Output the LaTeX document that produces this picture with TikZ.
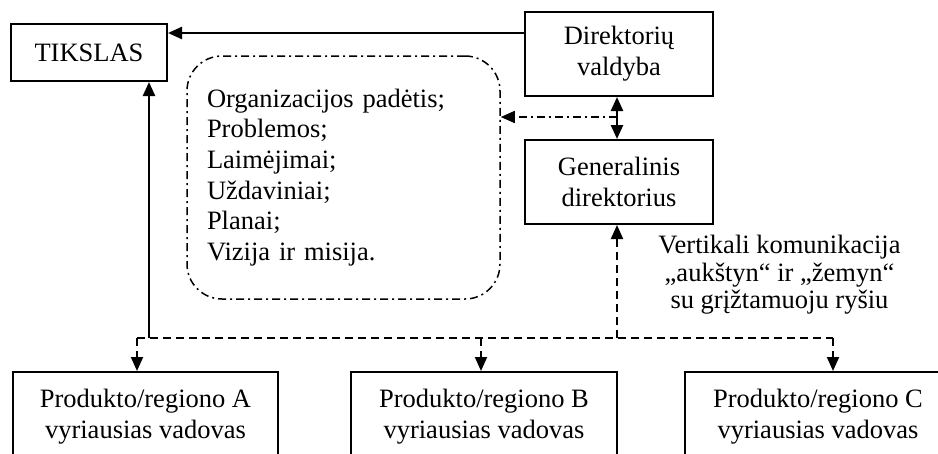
\documentclass[tikz,border=0pt]{standalone}
\usepackage{fontspec}
\setmainfont{Liberation Serif}
\usetikzlibrary{arrows.meta}
\begin{document}
\begin{tikzpicture}[x=1pt,y=-1pt,
  txt/.style={font=\fontsize{26.5}{31}\selectfont, align=center},
  box/.style={txt, draw, line width=2pt, inner sep=0pt},
  headtip/.style={-{Triangle[length=14pt,width=12pt]}},
  bothtips/.style={{Triangle[length=14pt,width=12pt]}-{Triangle[length=14pt,width=12pt]}},
  solidline/.style={line width=2.4pt},
  dashline/.style={line width=2pt, dash pattern=on 8pt off 5pt},
  dotdashline/.style={line width=1.5pt, dash pattern=on 8pt off 4pt on 2pt off 4pt},
]
\useasboundingbox (0,0) rectangle (938,453);
\fill[white] (0,0) rectangle (938,453);
\clip (0,0) rectangle (938,453);

% top level boxes
\node[box, minimum width=156pt, minimum height=57pt] (goal) at (89,52.5) {TIKSLAS};
\node[box, minimum width=188pt, minimum height=84pt] (board) at (619,54) {Direktorių\\valdyba};
\node[box, minimum width=188pt, minimum height=84pt] (ceo) at (619,182) {Generalinis\\direktorius};

% information block
\node[draw, dotdashline, rounded corners=35pt, minimum width=313pt, minimum height=243pt,
      text width=273pt, inner xsep=20pt, inner ysep=0pt, align=left,
      font=\fontsize{26.5}{30.6}\selectfont] (info) at (343.5,177.5)
  {Organizacijos padėtis;\\Problemos;\\Laimėjimai;\\Uždaviniai;\\Planai;\\Vizija ir misija.};

% regional heads
\node[box, minimum width=265pt, minimum height=90pt] (ra) at (145.5,417) {Produkto/regiono A\\vyriausias vadovas};
\node[box, minimum width=266pt, minimum height=90pt] (rb) at (484,417) {Produkto/regiono B\\vyriausias vadovas};
\node[box, minimum width=266pt, minimum height=90pt] (rc) at (818,417) {Produkto/regiono C\\vyriausias vadovas};

% caption of the vertical channel
\node[txt, font=\fontsize{26.5}{27.5}\selectfont] (note) at (779.5,275)
  {Vertikali komunikacija\\„aukštyn“ ir „žemyn“\\su grįžtamuoju ryšiu};

% junction points
\coordinate (link) at (617,117);
\coordinate (busA) at (137,338);
\coordinate (busB) at (481,338);
\coordinate (busC) at (833,338);
\coordinate (busG) at (149,338);
\coordinate (busD) at (617,338);

% board -> goal
\draw[solidline, headtip] (board.west |- 0,33) -- (goal.east |- 0,33);
% board <-> ceo
\draw[solidline, bothtips] (board.south -| link) -- (ceo.north -| link);
% link -> information block
\draw[dotdashline, headtip] (link) -- (link -| info.east);
% bus up to the ceo
\draw[dashline, headtip] (busD) -- (busD |- ceo.south);
% bus up to the goal
\draw[solidline, headtip] (busG) -- (busG |- goal.south);
% horizontal bus and drops
\draw[dashline] (busA) -- (busC);
\draw[dashline, headtip] (busA) -- (busA |- ra.north);
\draw[dashline, headtip] (busB) -- (busB |- rb.north);
\draw[dashline, headtip] (busC) -- (busC |- rc.north);
\end{tikzpicture}
\end{document}
